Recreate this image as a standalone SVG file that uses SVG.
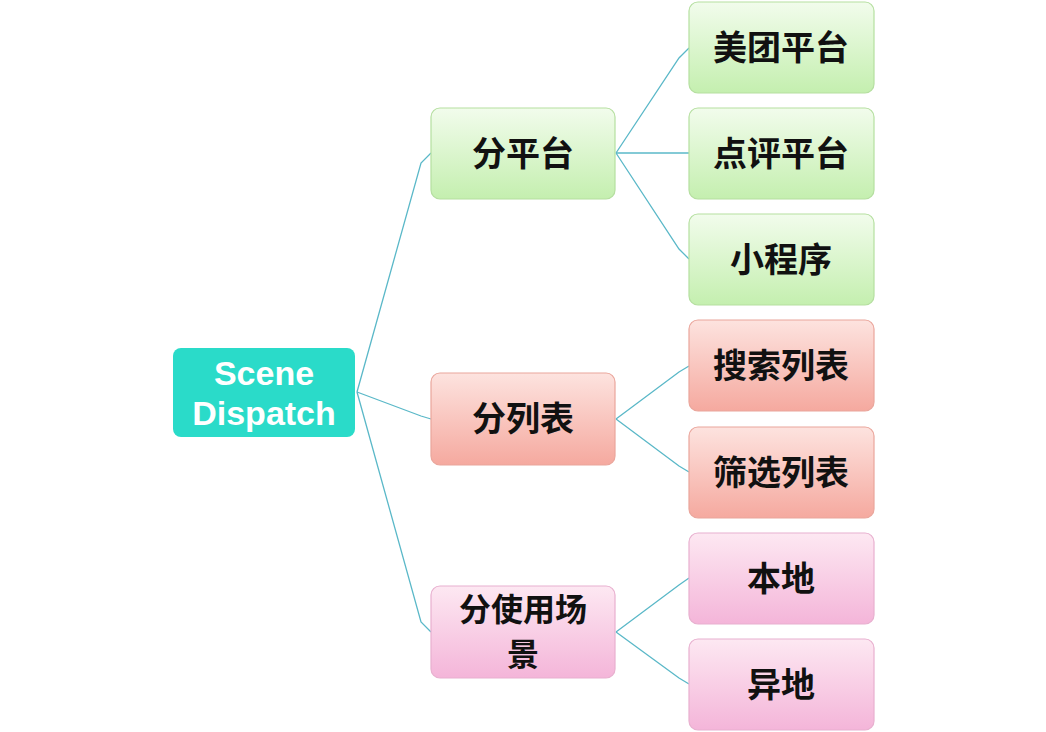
<svg xmlns="http://www.w3.org/2000/svg" width="1046" height="732" viewBox="0 0 1046 732">
<defs>
<linearGradient id="g" x1="0" y1="0" x2="0" y2="1"><stop offset="0" stop-color="#f2fcec"/><stop offset="1" stop-color="#c4efaf"/></linearGradient>
<linearGradient id="r" x1="0" y1="0" x2="0" y2="1"><stop offset="0" stop-color="#fde3df"/><stop offset="1" stop-color="#f5a99f"/></linearGradient>
<linearGradient id="p" x1="0" y1="0" x2="0" y2="1"><stop offset="0" stop-color="#fde8f2"/><stop offset="1" stop-color="#f4b5d9"/></linearGradient>
</defs>
<style>
.n{stroke-width:1.2}
.gn{fill:url(#g);stroke:#b5dfa0}
.rn{fill:url(#r);stroke:#eaa69c}
.pn{fill:url(#p);stroke:#e8b0cf}
.t{font-family:"Noto Sans CJK SC","Liberation Sans",sans-serif;font-weight:bold;font-size:34px;fill:#111;text-anchor:middle}
.s{font-size:32px}
.w{font-family:"Liberation Sans",sans-serif;font-weight:bold;font-size:34px;fill:#fff;text-anchor:middle}
.c path{fill:none;stroke:#5ab8c8;stroke-width:1.3}
</style>
<rect width="1046" height="732" fill="#fff"/>
<g class="c">
<path d="M357,392 L421,163 L431,153"/>
<path d="M357,392 L421,416 L431,419"/>
<path d="M357,392 L421,622 L431,632"/>
<path d="M616,153 L679,58 L689,48"/>
<path d="M616,153 L689,153"/>
<path d="M616,153 L679,249 L689,259"/>
<path d="M616,419 L679,372 L689,366"/>
<path d="M616,419 L679,466 L689,472"/>
<path d="M616,632 L679,585 L689,578"/>
<path d="M616,632 L679,678 L689,684"/>
</g>
<g id="root"><rect x="173" y="348" width="182" height="89" rx="8" fill="#2adbc9"/><text class="w" x="264" y="385">Scene</text><text class="w" x="264" y="425">Dispatch</text></g>
<g id="m1"><rect class="n gn" x="431" y="108" width="184" height="91" rx="9"/><text class="t" x="523" y="166">分平台</text></g>
<g id="m2"><rect class="n rn" x="431" y="373" width="184" height="92" rx="9"/><text class="t" x="523" y="431">分列表</text></g>
<g id="m3"><rect class="n pn" x="431" y="586" width="184" height="92" rx="9"/><text class="t s" x="523" y="621">分使用场</text><text class="t s" x="523" y="666">景</text></g>
<g id="l1"><rect class="n gn" x="689" y="2" width="185" height="91" rx="9"/><text class="t" x="781" y="60">美团平台</text></g>
<g id="l2"><rect class="n gn" x="689" y="108" width="185" height="91" rx="9"/><text class="t" x="781" y="166">点评平台</text></g>
<g id="l3"><rect class="n gn" x="689" y="214" width="185" height="91" rx="9"/><text class="t" x="781" y="272">小程序</text></g>
<g id="l4"><rect class="n rn" x="689" y="320" width="185" height="91" rx="9"/><text class="t" x="781" y="378">搜索列表</text></g>
<g id="l5"><rect class="n rn" x="689" y="427" width="185" height="91" rx="9"/><text class="t" x="781" y="485">筛选列表</text></g>
<g id="l6"><rect class="n pn" x="689" y="533" width="185" height="91" rx="9"/><text class="t" x="781" y="591">本地</text></g>
<g id="l7"><rect class="n pn" x="689" y="639" width="185" height="91" rx="9"/><text class="t" x="781" y="697">异地</text></g>
</svg>
